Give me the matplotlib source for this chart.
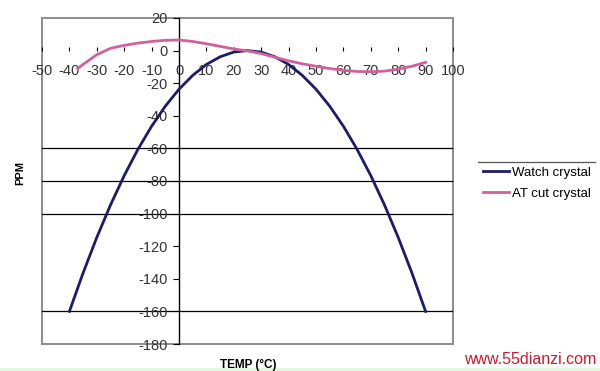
import matplotlib
matplotlib.use("Agg")
import matplotlib.pyplot as plt
from matplotlib.patches import Rectangle
from matplotlib.lines import Line2D

plt.rcParams['font.family'] = ['Liberation Sans', 'DejaVu Sans']
plt.rcParams['axes.unicode_minus'] = False

# watch crystal (tuning fork) - parabola
watch_t = [-40, -35, -30, -25, -20, -15, -10, -5, 0, 5, 10, 15, 20, 25,
           30, 35, 40, 45, 50, 55, 60, 65, 70, 75, 80, 85, 90]
watch_ppm = [-160, -136.4, -114.6, -94.7, -76.7, -60.6, -46.4, -34.1, -23.7,
             -15.2, -8.5, -3.8, -0.9, 0, -0.9, -3.8, -8.5, -15.2, -23.7,
             -34.1, -46.4, -60.6, -76.7, -94.7, -114.6, -136.4, -160]

# AT cut crystal - cubic-ish curve
at_t = [-37, -35, -30, -25, -20, -15, -10, -5, 0, 5, 10, 15, 20, 25, 30,
        35, 40, 45, 50, 55, 60, 65, 70, 75, 80, 85, 90]
at_ppm = [-11, -8.5, -2.5, 1.4, 3.2, 4.6, 5.6, 6.3, 6.5, 5.6, 4.2, 2.6, 1.0,
          -0.2, -1.8, -4.1, -6.3, -8.1, -9.6, -11.0, -12.1, -12.8, -13.0,
          -12.6, -11.4, -9.6, -7.2]

x_ticks = list(range(-50, 101, 10))
y_ticks = list(range(-180, 21, 20))
grid_at = [-60, -80, -100, -160]

fig = plt.figure(figsize=(6, 3.71), dpi=100)
ax = fig.add_axes([42/600, 1-344/371, (453-42)/600, (344-18)/371])

navy = '#1c1c68'
pink = '#d2609c'

ax.plot(watch_t, watch_ppm, color=navy, lw=2.0, label='Watch crystal', zorder=3)
ax.plot(at_t, at_ppm, color=pink, lw=2.0, label='AT cut crystal', zorder=3)

for g in grid_at:
    ax.axhline(g, color='black', lw=0.9, zorder=1)

ax.set_xlim(-50, 100)
ax.set_ylim(-180, 20)
ax.set_xticks(x_ticks)
ax.set_yticks(y_ticks)

for s in ['top', 'right']:
    ax.spines[s].set_visible(False)
ax.spines['left'].set_position(('data', 0))
ax.spines['left'].set_color('black')
ax.spines['left'].set_linewidth(1.0)
ax.spines['bottom'].set_position(('data', 0))
ax.spines['bottom'].set_visible(False)

ax.tick_params(axis='y', direction='out', length=4, width=0.8, pad=4,
               labelsize=10.5, labelcolor='#333333')
ax.tick_params(axis='x', direction='in', length=3, width=0.8, pad=10,
               labelsize=10.5, labelcolor='#333333')

ax.add_patch(Rectangle((0, 0), 1, 1, transform=ax.transAxes, fill=False,
                       edgecolor='#8c8c8c', lw=1.4, clip_on=False, zorder=0))

leg = ax.legend(loc='upper left', bbox_to_anchor=(480/600, 1-164/371),
                bbox_transform=fig.transFigure, frameon=False, fontsize=9.5,
                handlelength=2.0, handletextpad=0.2, labelspacing=0.65,
                borderaxespad=0, borderpad=0.2)
fig.add_artist(Line2D([478/600, 595/600], [1-162/371, 1-162/371],
                      transform=fig.transFigure, color='#555555', lw=0.9))

fig.text(20/600, 1-173/371, 'PPM', rotation=90, ha='center', va='center',
         fontsize=8, fontweight='bold')
fig.text(248/600, 1-365/371, 'TEMP (\u00b0C)', ha='center', va='center',
         fontsize=8.5, fontweight='bold')
fig.text(530/600, 1-359/371, 'www.55dianzi.com', ha='center', va='center',
         fontsize=11.5, color='#cc1a2a')
fig.add_artist(Rectangle((0, 0), 1, 3/371, transform=fig.transFigure,
                         color='#e2f6e2', lw=0))

fig.savefig('out.png', dpi=100)
